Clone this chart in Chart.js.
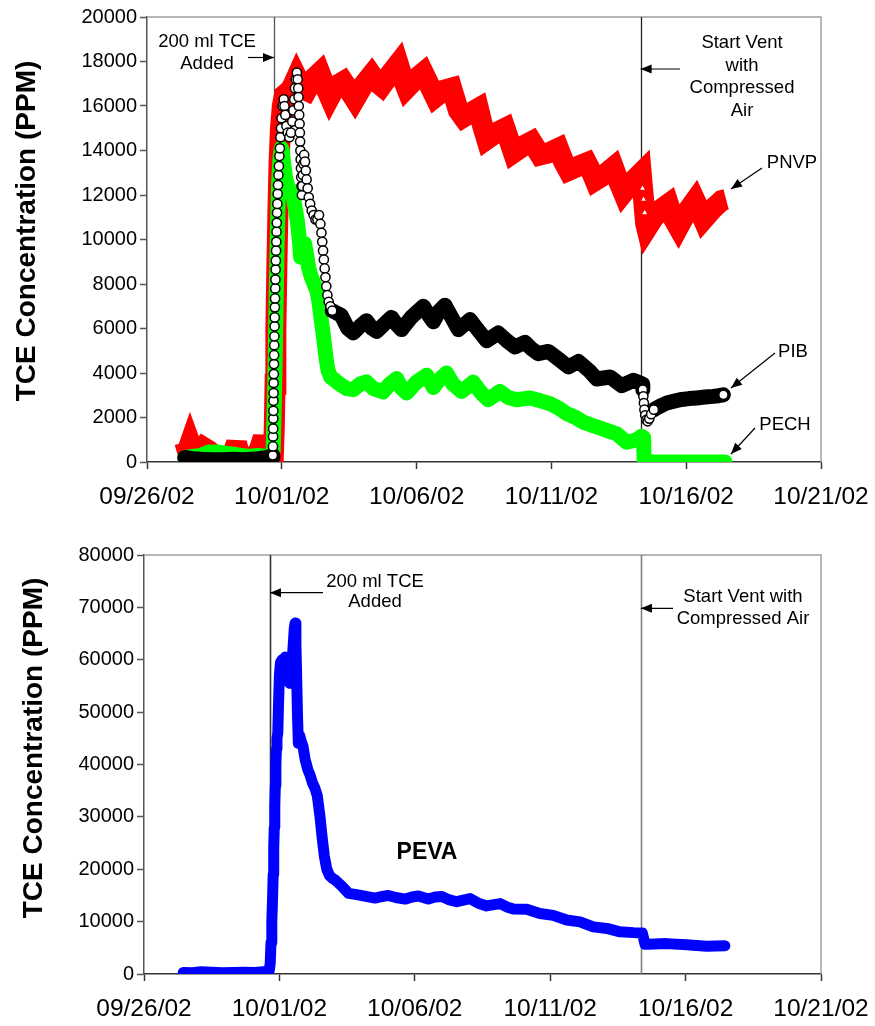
<!DOCTYPE html>
<html>
<head>
<meta charset="utf-8">
<script src="https://cdn.jsdelivr.net/npm/chart.js@4/dist/chart.umd.min.js"></script>
<style>
  html, body { margin: 0; padding: 0; background: #fff; }
  #wrap { position: relative; width: 875px; height: 1026px; }
  #topChart { position: absolute; left: 0; top: 0; }
  #bottomChart { position: absolute; left: 0; top: 520px; }
</style>
</head>
<body>
<div id="wrap">
  <canvas id="topChart" width="875" height="520"></canvas>
  <canvas id="bottomChart" width="875" height="506"></canvas>
</div>
<script>
// x = days after 09/26/02 00:00, y = TCE ppm
const dateLabels = ['09/26/02', '10/01/02', '10/06/02', '10/11/02', '10/16/02', '10/21/02'];
const topYLabels = ['0', '2000', '4000', '6000', '8000', '10000', '12000', '14000', '16000', '18000', '20000'];
const bottomYLabels = ['0', '10000', '20000', '30000', '40000', '50000', '60000', '70000', '80000'];

// event lines: [200 ml TCE added, start vent]
const topEvents = [4.71, 18.31];
const bottomEvents = [4.65, 18.35];

const pnvpPoints = [
  [1.40,900],[1.50,500],[1.60,850],[1.72,450],[1.83,900],[1.95,400],[2.10,650],[2.30,500],[2.50,300],[2.75,200],
  [3.00,200],[3.15,300],[3.32,850],[3.45,200],[3.70,150],[3.95,250],[4.15,500],[4.31,1100],[4.45,500],[4.60,150],[4.68,100],
  [4.72,1500],[4.75,3500],[4.78,6000],[4.82,9000],[4.86,11500],[4.90,13500],[4.95,15000],[5.02,16000],[5.10,16500],[5.20,16600],
  [5.30,16700],[5.40,16900],[5.55,17300],[5.75,16800],[5.92,16700],[6.15,17200],[6.41,17500],[6.60,16900],[6.78,16400],[7.00,16900],
  [7.28,17100],[7.50,16700],[7.71,16300],[8.00,16900],[8.33,17400],[8.50,17100],[8.70,16900],[9.00,17400],[9.32,17900],[9.50,17200],
  [9.63,16800],[9.95,17200],[10.25,17500],[10.45,17000],[10.69,16400],[11.00,16700],[11.30,16800],[11.55,15800],[11.73,15500],[12.00,15700],
  [12.29,15900],[12.45,15100],[12.60,14500],[12.95,14800],[13.28,15000],[13.45,14400],[13.59,13900],[13.95,14200],[14.27,14400],[14.58,13800],
  [14.90,13900],[15.26,14100],[15.45,13500],[15.63,13100],[16.00,13300],[16.31,13450],[16.50,13000],[16.62,12650],[16.95,12900],[17.30,13250],
  [17.50,12600],[17.67,12100],[18.00,12600],[18.33,13000],
  [18.38,12300],[18.42,11800],[18.46,11200],[18.50,10700],[18.54,10500],[18.75,10900],[19.00,11300],[19.34,11600],[19.50,11000],[19.71,10550],
  [20.00,11200],[20.33,11750],[20.50,11300],[20.64,10900],[21.00,11400],[21.32,11750],[21.48,11800]
];

const pibPoints = [
  [1.40,200],[1.70,150],[2.00,120],[2.40,100],[2.80,100],[3.20,120],[3.60,100],[4.00,130],[4.40,200],[4.60,250],[4.66,200],
  [4.668,300],[4.672,700],[4.676,1150],[4.680,1500],[4.684,1950],[4.688,2300],[4.692,2750],[4.696,3100],[4.700,3550],[4.705,3950],
  [4.710,4400],[4.715,4800],[4.720,5250],[4.726,5650],[4.732,6100],[4.738,6500],[4.744,6950],[4.750,7350],[4.757,7800],[4.764,8200],
  [4.771,8650],[4.779,9050],[4.787,9500],[4.795,9900],[4.804,10350],[4.813,10750],[4.823,11200],[4.834,11600],[4.846,12050],[4.860,12450],
  [4.875,12900],[4.892,13300],[4.910,13750],[4.930,14100],[4.950,14600],[4.970,15000],[4.990,15450],
  [5.03,16000],[5.07,16300],[5.10,16000],[5.13,15600],[5.17,15100],[5.22,14800],[5.28,14600],[5.34,14800],[5.39,15300],[5.43,15800],
  [5.46,16300],[5.49,16800],[5.52,17200],[5.56,17500],[5.59,17200],[5.61,16800],[5.62,16400],[5.63,16000],[5.645,15600],[5.66,15200],
  [5.67,14800],[5.68,14400],[5.69,14000],[5.70,13600],[5.71,13200],[5.72,12800],[5.73,12400],[5.745,12000],[5.76,12400],[5.78,12900],
  [5.80,13400],[5.83,13800],[5.86,13500],[5.89,13100],[5.92,12700],[5.96,12300],[6.00,11900],[6.05,11600],[6.11,11300],[6.18,11100],
  [6.25,10900],[6.32,10900],[6.38,11100],[6.43,10700],[6.47,10300],[6.50,9900],[6.53,9500],[6.56,9100],[6.59,8700],[6.62,8300],
  [6.65,7900],[6.69,7500],[6.74,7200],[6.80,7000],[6.87,6800],
  [7.03,6700],[7.20,6600],[7.45,6000],[7.65,5800],[7.90,6100],[8.14,6350],[8.35,6000],[8.52,5870],[8.80,6200],[9.07,6500],
  [9.25,6200],[9.44,5950],[9.80,6500],[10.25,7000],[10.45,6600],[10.62,6300],[10.85,6800],[11.05,7050],[11.30,6500],[11.55,5950],
  [11.98,6400],[12.30,5900],[12.60,5450],[13.03,5800],[13.35,5450],[13.65,5170],[14.02,5380],[14.25,5100],[14.51,4870],[14.89,4970],
  [15.32,4570],[15.63,4270],[16.00,4520],[16.43,4070],[16.68,3730],[17.18,3820],[17.61,3430],[18.04,3670],[18.30,3550],[18.37,3500],
  [18.39,3250],[18.41,2950],[18.43,2650],[18.45,2350],[18.48,2100],[18.52,1900],[18.57,1830],[18.63,1950],[18.70,2150],[18.80,2350],
  [18.91,2430],[19.10,2550],[19.28,2650],[19.50,2720],[19.77,2800],[20.10,2850],[20.39,2880],[20.70,2920],[21.00,2950],[21.20,2980],[21.38,3020]
];

const pechPoints = [
  [1.40,200],[1.70,250],[2.00,300],[2.30,450],[2.60,450],[2.90,400],[3.20,350],[3.50,300],[3.80,250],[4.10,300],[4.40,250],[4.62,200],
  [4.68,500],[4.72,2500],[4.76,5000],[4.80,8000],[4.84,10500],[4.88,12500],[4.93,13600],[4.98,14100],[5.02,14000],[5.08,13300],
  [5.15,12700],[5.25,12300],[5.35,12200],[5.42,11900],[5.50,11400],[5.58,10800],[5.65,10000],[5.70,9200],[5.78,9400],[5.85,9800],
  [5.92,9300],[6.00,8700],[6.10,8300],[6.20,8000],[6.30,7700],[6.38,7200],[6.45,6500],[6.52,5900],[6.58,5300],[6.65,4600],
  [6.72,4100],[6.82,3800],[6.95,3700],[7.15,3500],[7.40,3300],[7.65,3250],[7.90,3500],[8.14,3600],[8.40,3300],[8.76,3150],
  [9.00,3500],[9.26,3750],[9.45,3300],[9.63,3100],[10.00,3600],[10.37,3900],[10.62,3350],[10.85,3700],[11.11,4000],[11.35,3500],
  [11.67,3170],[12.10,3590],[12.40,3100],[12.66,2800],[13.09,3170],[13.40,2900],[13.71,2800],[14.21,2880],[14.60,2750],[14.95,2620],
  [15.30,2400],[15.57,2170],[15.90,2000],[16.18,1790],[16.50,1650],[16.80,1530],[17.10,1400],[17.42,1270],[17.79,890],[18.17,1000],
  [18.33,1150],[18.42,1100],
  [18.44,0],[18.80,0],[19.50,0],[20.20,0],[20.90,0],[21.44,0]
];

const pevaPoints = [
  [1.45,300],[1.80,250],[2.10,450],[2.50,350],[2.90,250],[3.30,300],[3.70,350],[4.10,300],[4.40,450],[4.60,300],
  [4.63,800],[4.66,2000],[4.69,6000],[4.72,10000],[4.745,14000],[4.77,19000],[4.79,24000],[4.81,28000],[4.83,32000],[4.85,36000],
  [4.87,40000],[4.89,43000],[4.91,45000],[4.94,46000],[4.97,52000],[5.00,57000],[5.04,59500],[5.10,60000],[5.16,59000],[5.21,60500],
  [5.26,58000],[5.32,56000],[5.38,55500],[5.44,58000],[5.50,62000],[5.55,66000],[5.58,67000],[5.61,63000],[5.64,56000],[5.67,49000],
  [5.70,44000],[5.75,45500],[5.80,44500],[5.87,43500],[5.95,41000],[6.05,39000],[6.13,38000],[6.22,36500],[6.31,35500],[6.40,34000],
  [6.50,30000],[6.58,26000],[6.66,22500],[6.75,20000],[6.85,18800],[6.95,18300],[7.05,18000],[7.30,16800],[7.55,15400],[7.80,15200],
  [8.10,14900],[8.53,14500],[8.80,14800],[9.02,15000],[9.30,14600],[9.64,14300],[9.90,14700],[10.13,14900],[10.50,14300],[10.75,14700],
  [11.00,14800],[11.25,14200],[11.55,13800],[12.04,14400],[12.35,13500],[12.65,13000],[13.15,13450],[13.40,12800],[13.64,12400],[14.13,12350],
  [14.62,11550],[15.11,11200],[15.61,10300],[16.10,9950],[16.59,9000],[17.09,8700],[17.58,8050],[18.08,7900],[18.40,7850],[18.45,6800],
  [18.50,5700],[18.62,5700],[19.30,5800],[20.04,5600],[20.78,5300],[21.45,5400]
];

// parts of the PIB trace drawn as separate open circles
const pibOpen = [[4.665, 6.9], [18.385, 18.82]];

const FONT = '"Liberation Sans", Arial, sans-serif';
const toXY = pts => pts.map(p => ({ x: p[0], y: p[1] }));
const inRanges = (d, ranges) => ranges.some(r => d >= r[0] && d <= r[1]);

function arrow(ctx, x1, y1, x2, y2) {
  ctx.beginPath();
  ctx.moveTo(x1, y1);
  ctx.lineTo(x2, y2);
  ctx.stroke();
  const a = Math.atan2(y2 - y1, x2 - x1);
  const L = 11, W = 4.5;
  ctx.beginPath();
  ctx.moveTo(x2, y2);
  ctx.lineTo(x2 - L * Math.cos(a) + W * Math.sin(a), y2 - L * Math.sin(a) - W * Math.cos(a));
  ctx.lineTo(x2 - L * Math.cos(a) - W * Math.sin(a), y2 - L * Math.sin(a) + W * Math.cos(a));
  ctx.closePath();
  ctx.fill();
}

const decor = {
  id: 'decor',
  beforeDatasetsDraw(chart, args, o) {
    const { ctx, chartArea: a } = chart;
    const x = chart.scales.x;
    ctx.save();
    ctx.strokeStyle = '#a0a0a0';
    ctx.lineWidth = 1.5;
    ctx.beginPath();
    ctx.moveTo(a.left, a.top);
    ctx.lineTo(a.right, a.top);
    ctx.lineTo(a.right, a.bottom);
    ctx.stroke();
    o.events.forEach((d, i) => {
      const px = Math.round(x.getPixelForValue(d)) + 0.5;
      ctx.strokeStyle = o.eventColors[i];
      ctx.lineWidth = o.eventWidth;
      ctx.beginPath();
      ctx.moveTo(px, a.top);
      ctx.lineTo(px, a.bottom);
      ctx.stroke();
    });
    ctx.restore();
  },
  beforeDatasetDraw(chart) {
    chart.ctx.miterLimit = 3;
  },
  afterDraw(chart, args, o) {
    const { ctx } = chart;
    const x = chart.scales.x;
    ctx.save();
    // y axis title
    ctx.translate(o.title.x, o.title.y);
    ctx.rotate(-Math.PI / 2);
    ctx.font = 'bold 28px ' + FONT;
    ctx.fillStyle = '#000';
    ctx.textAlign = 'center';
    ctx.textBaseline = 'middle';
    ctx.fillText('TCE Concentration (PPM)', 0, 0);
    ctx.restore();

    ctx.save();
    ctx.fillStyle = '#000';
    ctx.strokeStyle = '#000';
    ctx.lineWidth = 1.2;
    ctx.textAlign = 'center';
    ctx.textBaseline = 'middle';
    o.texts.forEach(t => {
      ctx.font = (t.bold ? 'bold ' : '') + (t.size || 18.5) + 'px ' + FONT;
      ctx.fillText(t.text, t.x, t.y);
    });
    o.arrows.forEach(r => {
      const tipX = r.toEvent !== undefined ? x.getPixelForValue(o.events[r.toEvent]) : r.x2;
      arrow(ctx, r.x1, r.y1, tipX, r.y2);
    });
    ctx.restore();
  }
};

function xAxis(pad, h) {
  return {
    type: 'linear', min: 0, max: 25,
    ticks: {
      stepSize: 5, autoSkip: false, maxRotation: 0, padding: pad, color: '#000',
      font: { family: FONT, size: 24.5 },
      callback: (v, i) => dateLabels[i]
    },
    grid: { drawOnChartArea: false, drawTicks: true, tickLength: 7, tickColor: '#333', tickWidth: 1.5 },
    border: { color: '#333', width: 1.5 },
    afterFit: s => { s.height = h; s.paddingLeft = 0; s.paddingRight = 0; }
  };
}

function yAxis(max, step, labels, w) {
  return {
    min: 0, max: max,
    ticks: {
      stepSize: step, autoSkip: false, padding: 3, color: '#000',
      font: { family: FONT, size: 20 },
      callback: (v, i) => labels[i]
    },
    grid: { drawOnChartArea: false, drawTicks: true, tickLength: 7, tickColor: '#555', tickWidth: 1.5 },
    border: { color: '#555', width: 1.5 },
    afterFit: s => { s.width = w; }
  };
}

const baseOptions = {
  responsive: false,
  animation: false,
  devicePixelRatio: 1,
  events: [],
  plugins: { legend: { display: false }, tooltip: { enabled: false } }
};

new Chart(document.getElementById('topChart'), {
  type: 'line',
  data: {
    datasets: [
      {
        label: 'PIB', data: toXY(pibPoints),
        borderColor: '#000', borderWidth: 15, borderJoinStyle: 'round', borderCapStyle: 'round',
        segment: {
          borderWidth: c => inRanges(pibPoints[c.p0DataIndex][0], pibOpen) && inRanges(pibPoints[c.p1DataIndex][0], pibOpen) ? 1 : 15
        },
        pointStyle: 'circle',
        pointRadius: c => (inRanges(pibPoints[c.dataIndex][0], pibOpen) || c.dataIndex === pibPoints.length - 1) ? 4.6 : 0,
        pointBackgroundColor: '#fff', pointBorderColor: '#000', pointBorderWidth: 1.5
      },
      {
        label: 'PECH', data: toXY(pechPoints),
        borderColor: '#00ff00', borderWidth: 15, borderJoinStyle: 'round', borderCapStyle: 'round',
        pointRadius: 0
      },
      {
        label: 'PNVP', data: toXY(pnvpPoints),
        borderColor: '#ff0000', borderWidth: 21, borderJoinStyle: 'miter', borderCapStyle: 'butt',
        pointStyle: 'triangle',
        pointRadius: c => (pnvpPoints[c.dataIndex][0] > 18.35 && pnvpPoints[c.dataIndex][0] < 18.48) ? 4 : 0,
        pointBackgroundColor: '#fff', pointBorderColor: '#ff0000', pointBorderWidth: 1.2
      }
    ]
  },
  options: Object.assign({}, baseOptions, {
    layout: { padding: { top: 17, right: 54, left: 0, bottom: 0 } },
    scales: { x: xAxis(14, 58), y: yAxis(20000, 2000, topYLabels, 147) },
    plugins: Object.assign({}, baseOptions.plugins, {
      decor: {
        events: topEvents, eventColors: ['#555', '#222'], eventWidth: 1.3,
        title: { x: 27.5, y: 231 },
        texts: [
          { text: '200 ml TCE', x: 207, y: 42 },
          { text: 'Added', x: 207, y: 64 },
          { text: 'Start Vent', x: 742, y: 43 },
          { text: 'with', x: 742, y: 66 },
          { text: 'Compressed', x: 742, y: 88 },
          { text: 'Air', x: 742, y: 111 },
          { text: 'PNVP', x: 792, y: 163 },
          { text: 'PIB', x: 793, y: 352 },
          { text: 'PECH', x: 785, y: 425 }
        ],
        arrows: [
          { x1: 248, y1: 57.5, toEvent: 0, y2: 57.5 },
          { x1: 680, y1: 69, toEvent: 1, y2: 69 },
          { x1: 762, y1: 168, x2: 731, y2: 189 },
          { x1: 775, y1: 353, x2: 731, y2: 388 },
          { x1: 755, y1: 428, x2: 731, y2: 454 }
        ]
      }
    })
  }),
  plugins: [decor]
});

new Chart(document.getElementById('bottomChart'), {
  type: 'line',
  data: {
    datasets: [
      {
        label: 'PEVA', data: toXY(pevaPoints),
        borderColor: '#0000ff', borderWidth: 11, borderJoinStyle: 'round', borderCapStyle: 'round',
        pointStyle: 'crossRot', pointRadius: 4.5, pointBorderColor: '#0000ff', pointBorderWidth: 1.5
      }
    ]
  },
  options: Object.assign({}, baseOptions, {
    layout: { padding: { top: 35, right: 54, left: 0, bottom: 0 } },
    scales: { x: xAxis(14, 52), y: yAxis(80000, 10000, bottomYLabels, 144) },
    plugins: Object.assign({}, baseOptions.plugins, {
      decor: {
        events: bottomEvents, eventColors: ['#333', '#808080'], eventWidth: 1.6,
        title: { x: 34, y: 228 },
        texts: [
          { text: '200 ml TCE', x: 375, y: 61.7 },
          { text: 'Added', x: 375, y: 82.3 },
          { text: 'Start Vent with', x: 743, y: 76.7 },
          { text: 'Compressed Air', x: 743, y: 99.3 },
          { text: 'PEVA', x: 427, y: 332.7, bold: true, size: 23 }
        ],
        arrows: [
          { x1: 323, y1: 72.7, toEvent: 0, y2: 72.7 },
          { x1: 673, y1: 88.3, toEvent: 1, y2: 88.3 }
        ]
      }
    })
  }),
  plugins: [decor]
});
</script>
</body>
</html>
